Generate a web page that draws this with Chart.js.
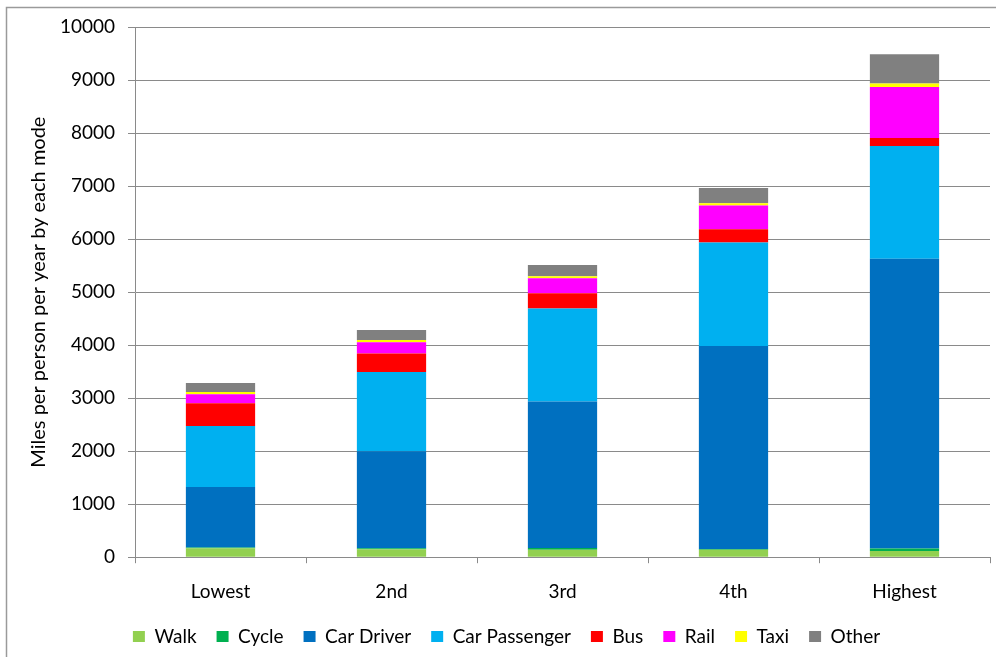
<!DOCTYPE html>
<html>
<head>
<meta charset="utf-8">
<script src="https://cdn.jsdelivr.net/npm/chart.js@4"></script>
<style>
  html, body { margin: 0; padding: 0; background: #fff; }
  #wrap { width: 996px; height: 657px; position: relative; }
</style>
</head>
<body>
<div id="wrap"><canvas id="c" width="996" height="657"></canvas></div>
<script>
const categories = ['Lowest', '2nd', '3rd', '4th', 'Highest'];
const walk          = [170, 150, 140, 140, 115];
const cycle         = [15, 20, 35, 15, 50];
const carDriver     = [1140, 1830, 2760, 3830, 5465];
const carPassenger  = [1150, 1495, 1755, 1950, 2125];
const bus           = [430, 345, 290, 250, 150];
const rail          = [170, 215, 280, 450, 965];
const taxi          = [40, 40, 40, 40, 65];
const other         = [170, 190, 210, 290, 550];
const seriesNames   = ['Walk', 'Cycle', 'Car Driver', 'Car Passenger', 'Bus', 'Rail', 'Taxi', 'Other'];
const seriesColors  = ['#92D050', '#00B050', '#0070C0', '#00B0F0', '#FF0000', '#FF00FF', '#FFFF00', '#808080'];
const yTicks        = [0, 1000, 2000, 3000, 4000, 5000, 6000, 7000, 8000, 9000, 10000];
const yTitle        = 'Miles per person per year by each mode';

const seriesData = [walk, cycle, carDriver, carPassenger, bus, rail, taxi, other];
const FONT = 'Lato, "Open Sans", "DejaVu Sans", sans-serif';
const GRID = '#8a8a8a';

const frame = {
  id: 'frame',
  beforeDraw(chart) {
    const ctx = chart.ctx;
    ctx.save();
    ctx.fillStyle = '#fff';
    ctx.fillRect(0, 0, chart.width, chart.height);
    ctx.strokeStyle = '#9a9a9a';
    ctx.lineWidth = 1.5;
    ctx.beginPath();
    ctx.moveTo(6.5, chart.height);
    ctx.lineTo(6.5, 7.5);
    ctx.lineTo(chart.width, 7.5);
    ctx.stroke();
    ctx.restore();
  }
};

new Chart(document.getElementById('c'), {
  type: 'bar',
  data: {
    labels: categories,
    datasets: seriesData.map((d, i) => ({
      label: seriesNames[i],
      data: d,
      backgroundColor: seriesColors[i],
      borderWidth: 0,
      categoryPercentage: 1.0,
      barPercentage: 0.405
    }))
  },
  plugins: [frame],
  options: {
    responsive: false,
    animation: false,
    layout: { padding: { left: 23, right: 6, top: 27, bottom: 1 } },
    plugins: {
      tooltip: { enabled: false },
      legend: {
        position: 'bottom',
        labels: {
          boxWidth: 12,
          boxHeight: 11,
          padding: 20,
          color: '#000',
          font: { family: FONT, size: 19 }
        }
      }
    },
    scales: {
      x: {
        stacked: true,
        afterFit(scale) { scale.height = scale.height - 13; },
        grid: {
          display: true,
          offset: true,
          drawOnChartArea: false,
          drawTicks: true,
          tickLength: 6,
          color: GRID
        },
        border: { display: true, color: GRID, width: 1 },
        ticks: { color: '#000', font: { family: FONT, size: 19 }, padding: 17 }
      },
      y: {
        stacked: true,
        min: 0,
        max: 10000,
        afterBuildTicks(scale) { scale.ticks = yTicks.map(v => ({ value: v })); },
        afterFit(scale) { scale.width = 112; },
        grid: { color: GRID, lineWidth: 1, tickLength: 7, drawTicks: true },
        border: { display: true, color: GRID, width: 1 },
        ticks: { color: '#000', font: { family: FONT, size: 19 }, padding: 13, callback: v => String(v) },
        title: {
          display: true,
          text: yTitle,
          color: '#000',
          font: { family: FONT, size: 20 },
          padding: { top: 4, bottom: 4 }
        }
      }
    }
  }
});
</script>
</body>
</html>
